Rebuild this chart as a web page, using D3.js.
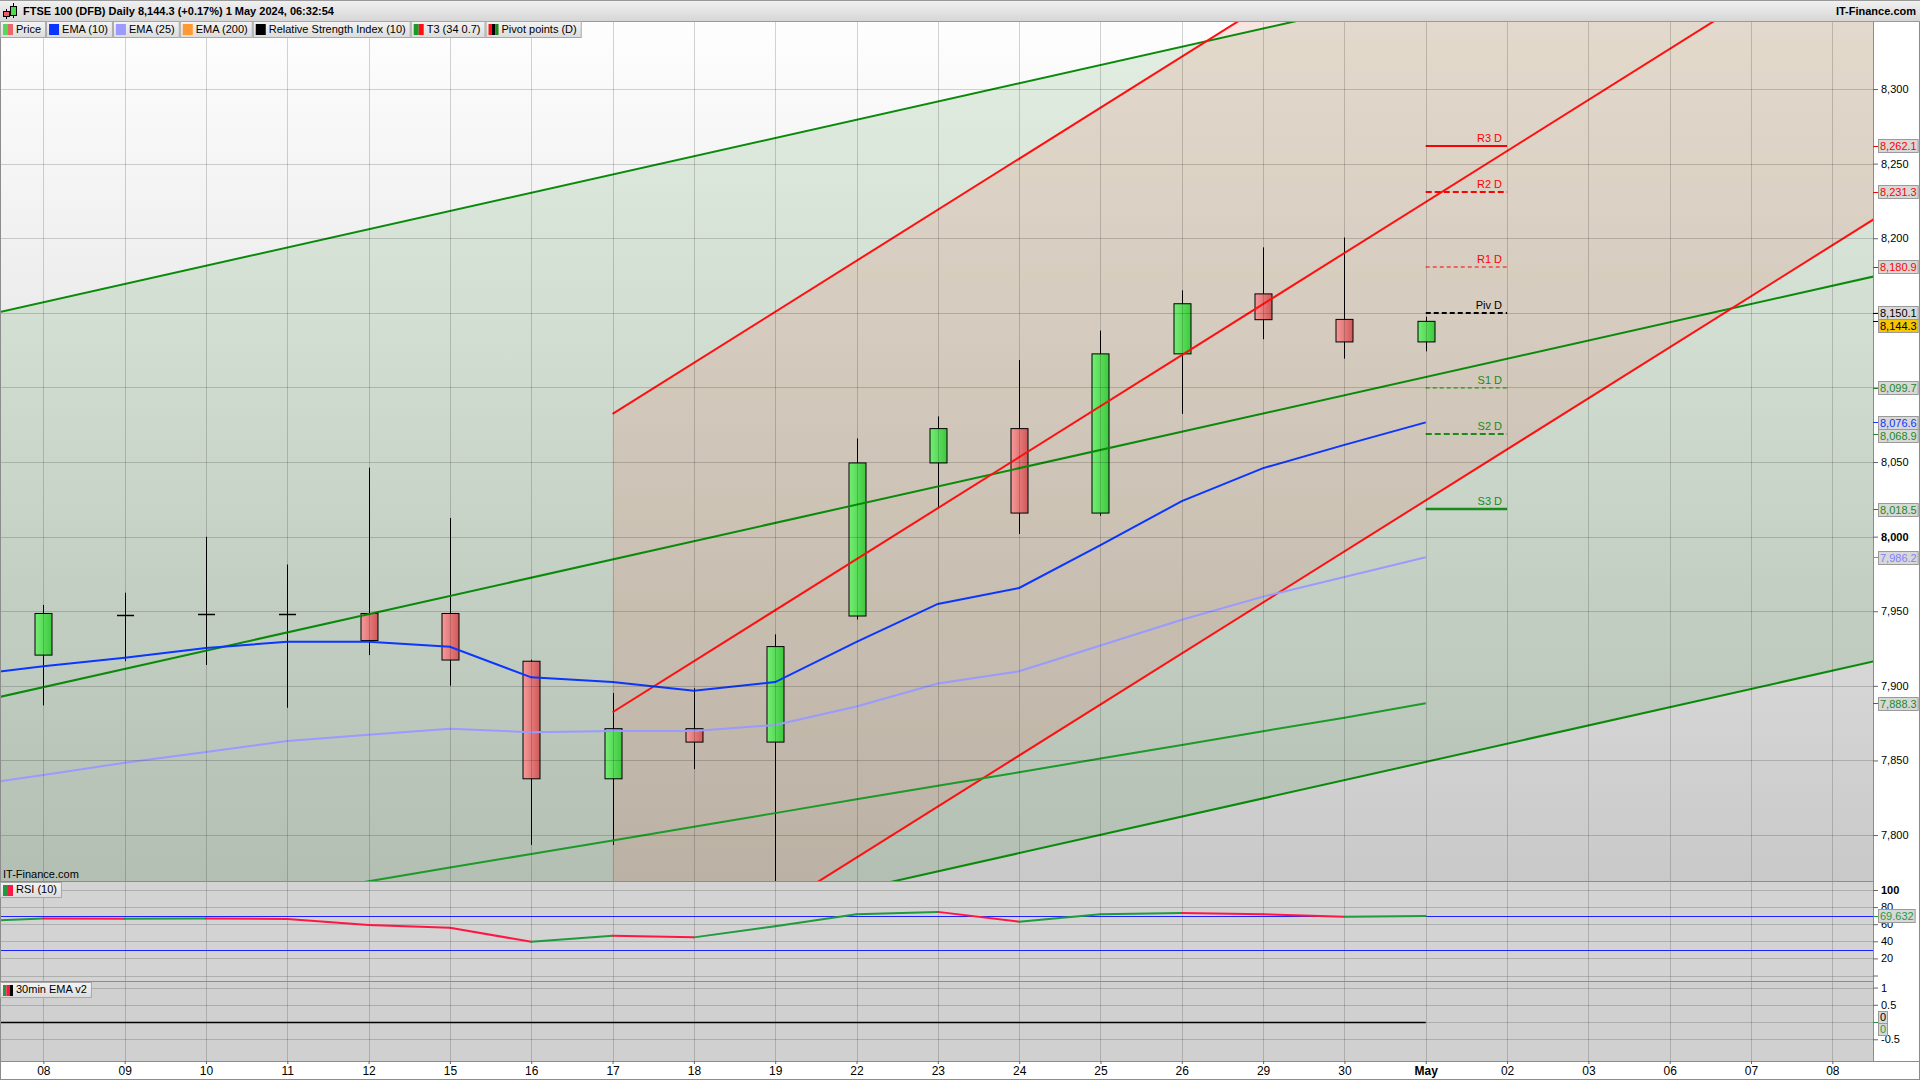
<!DOCTYPE html>
<html><head><meta charset="utf-8">
<script src="https://cdn.jsdelivr.net/npm/d3@7"></script>
<style>
html,body{margin:0;padding:0;background:#fff;overflow:hidden;}
svg{display:block;font-family:"Liberation Sans",Arial,Helvetica,sans-serif;}
</style></head><body>
<svg id="c" width="1920" height="1080"></svg>
<script>
// ---------------- DATA ----------------
const dates  = ["08","09","10","11","12","15","16","17","18","19","22","23","24","25","26","29","30","May","02","03","06","07","08"];
const openP  = [7920.6,7947.6,7947.6,7948.5,7948.5,7948.5,7916.5,7837.7,7871.3,7862.3,7946.8,8049.4,8072.4,8015.8,8122.5,8162.7,8145.6,8130.5];
const highP  = [7954.2,7962.4,7999.9,7981.3,8046.2,8012.5,7917.5,7895.2,7898.4,7934.5,8065.8,8080.6,8118.4,8138.1,8165.1,8193.9,8200.5,8147.4];
const lowP   = [7886.9,7916.5,7914.0,7885.3,7920.6,7900.1,7793.4,7793.4,7844.2,7760.0,7944.4,8019.1,8001.8,8014.0,8082.3,8132.3,8119.3,8124.2];
const closeP = [7948.5,7947.8,7948.0,7948.2,7930.4,7917.3,7837.7,7871.3,7862.3,7926.3,8049.4,8072.4,8015.8,8122.5,8156.1,8145.4,8130.5,8144.3];
// indicator series start one session earlier (index -1 = 05 Apr)
const ema10  = [7906.6,7913.1,7918.8,7925.4,7929.5,7929.5,7926.2,7905.7,7902.5,7896.7,7902.5,7929.5,7954.9,7965.6,7994.3,8023.8,8045.9,8061.5,8076.6];
const ema25  = [7832.3,7840.3,7848.4,7855.7,7863.1,7867.2,7871.3,7868.9,7869.7,7869.7,7873.8,7886.1,7901.6,7909.8,7927.0,7944.3,7959.8,7972.9,7986.2];
const rsi10  = [62.9,66.8,66.5,66.7,66.2,59.0,55.9,39.4,46.5,44.6,57.7,71.6,74.4,63.0,71.6,73.0,71.6,68.7,69.632];
// T3 (34 0.7) from index 3 (11 Apr)
const t3Start = 3;
const t3     = [7759.9,7769.0,7778.2,7787.3,7796.3,7805.6,7814.7,7824.0,7833.0,7842.1,7851.3,7860.3,7869.6,7878.6,7888.3];
const ema30min = [0,0,0,0,0,0,0,0,0,0,0,0,0,0,0,0,0,0,0];
// trend channels: centre line endpoints [dateIndex, price] and half width (points)
const greenMid = [[-1, 7886.9],[23, 8180.4]];
const greenHalf = 258;
const redMid = [[7, 7882.3],[23, 8429.5]];
const redHalf = 200;
// daily pivot points
const pivotNames = ["R3 D","R2 D","R1 D","Piv D","S1 D","S2 D","S3 D"];
const pivotVals  = [8262.1,8231.3,8180.9,8150.1,8099.7,8068.9,8018.5];
const priceTicks = [7800,7850,7900,7950,8000,8050,8100,8150,8200,8250,8300];
const rsiTicks = [0,20,40,60,80,100];
const emaPanelTicks = [-0.5,0,0.5,1];
const titleText = "FTSE 100 (DFB) Daily 8,144.3 (+0.17%) 1 May 2024, 06:32:54";

// ---------------- LAYOUT ----------------
const W = 1920, PR = 1873;
const headerH = 21, mainTop = 21, mainBot = 881, rsiBot = 981, lowBot = 1061;
const svg = d3.select("#c");
const defs = svg.append("defs");

const x = d3.scaleLinear().domain([-0.533, 22.5]).range([0, PR]);
const y = d3.scaleLinear().domain([7769.2, 8345.6]).range([mainBot, mainTop]);
const yr = d3.scaleLinear().domain([-6.4, 110.5]).range([rsiBot, mainBot]);
const ye = d3.scaleLinear().domain([-1.13, 1.19]).range([lowBot, rsiBot]);

function grad(id, x2, y2, stops, user, coords) {
  const g = defs.append("linearGradient").attr("id", id);
  if (user) { g.attr("gradientUnits","userSpaceOnUse").attr("x1",coords[0]).attr("y1",coords[1]).attr("x2",coords[2]).attr("y2",coords[3]); }
  else { g.attr("x1",0).attr("y1",0).attr("x2",x2).attr("y2",y2); }
  stops.forEach(s => g.append("stop").attr("offset", s[0]).attr("stop-color", s[1]));
}
grad("bgMain",0,0,[[0,"#fefefe"],[1,"#c9c9c9"]],true,[0,mainTop,0,mainBot]);
grad("hdr",0,1,[[0,"#f2f2f2"],[1,"#d6d6d6"]]);
grad("box",0,1,[[0,"#f4f4f4"],[1,"#dcdcdc"]]);
grad("redBody",1,0,[[0,"#f69a9a"],[1,"#d05858"]]);
grad("grnBody",1,0,[[0,"#74ee74"],[1,"#3ec83e"]]);

defs.append("clipPath").attr("id","mainClip").append("rect").attr("x",0).attr("y",mainTop).attr("width",PR).attr("height",mainBot-mainTop);
defs.append("clipPath").attr("id","rsiClip").append("rect").attr("x",0).attr("y",mainBot).attr("width",PR).attr("height",rsiBot-mainBot);

// whole background
svg.append("rect").attr("width",W).attr("height",1080).attr("fill","#fff");

// ---- main panel background ----
const main = svg.append("g").attr("clip-path","url(#mainClip)");
main.append("rect").attr("x",0).attr("y",mainTop).attr("width",PR).attr("height",mainBot-mainTop).attr("fill","url(#bgMain)");

function midAt(seg, i){ const [a,b]=seg; return a[1] + (b[1]-a[1])*(i-a[0])/(b[0]-a[0]); }
function channelPoly(seg, half){
  const a = seg[0][0], b = seg[1][0];
  return [[x(a), y(midAt(seg,a)+half)],[x(b), y(midAt(seg,b)+half)],[x(b), y(midAt(seg,b)-half)],[x(a), y(midAt(seg,a)-half)]];
}
main.append("polygon").attr("points", channelPoly(greenMid, greenHalf).join(" ")).attr("fill","rgb(0,110,0)").attr("fill-opacity",0.1);
main.append("polygon").attr("points", channelPoly(redMid, redHalf).join(" ")).attr("fill","rgb(225,105,80)").attr("fill-opacity",0.16);

// ---- RSI & lower panels ----
svg.append("rect").attr("x",0).attr("y",mainBot).attr("width",PR).attr("height",rsiBot-mainBot).attr("fill","#d3d3d3");
svg.append("rect").attr("x",0).attr("y",rsiBot).attr("width",PR).attr("height",lowBot-rsiBot).attr("fill","#d0d0d0");

// ---- gridlines ----
const grid = svg.append("g").attr("stroke","#000").attr("stroke-opacity",0.17).attr("stroke-width",1);
d3.range(0, dates.length).forEach(i => {
  grid.append("line").attr("x1",Math.round(x(i))+0.5).attr("x2",Math.round(x(i))+0.5).attr("y1",mainTop).attr("y2",lowBot);
});
priceTicks.forEach(v => grid.append("line").attr("x1",0).attr("x2",PR).attr("y1",Math.round(y(v))+0.5).attr("y2",Math.round(y(v))+0.5));
rsiTicks.forEach(v => grid.append("line").attr("x1",0).attr("x2",PR).attr("y1",Math.round(yr(v))+0.5).attr("y2",Math.round(yr(v))+0.5));
emaPanelTicks.forEach(v => grid.append("line").attr("x1",0).attr("x2",PR).attr("y1",Math.round(ye(v))+0.5).attr("y2",Math.round(ye(v))+0.5));

// ---- candles ----
const bw = 17;
const cg = main.append("g");
openP.forEach((o,i) => {
  const c = closeP[i], h = highP[i], l = lowP[i], cx = Math.round(x(i))+0.5;
  cg.append("line").attr("x1",cx).attr("x2",cx).attr("y1",y(h)).attr("y2",y(l)).attr("stroke","#000").attr("stroke-width",1);
  if (Math.abs(c-o) < 1.5) {
    cg.append("line").attr("x1",cx-bw/2).attr("x2",cx+bw/2).attr("y1",Math.round(y(c))+0.5).attr("y2",Math.round(y(c))+0.5).attr("stroke","#000").attr("stroke-width",1.5);
  } else {
    const top = y(Math.max(o,c)), bot = y(Math.min(o,c));
    cg.append("rect").attr("x",cx-bw/2).attr("y",top).attr("width",bw).attr("height",bot-top)
      .attr("fill", c>o ? "url(#grnBody)" : "url(#redBody)").attr("stroke","#000").attr("stroke-width",1);
  }
});

// ---- channel lines ----
function chanLines(seg, half, color){
  [half, 0, -half].forEach(off => {
    const a = seg[0][0], b = seg[1][0];
    main.append("line").attr("x1",x(a)).attr("y1",y(midAt(seg,a)+off)).attr("x2",x(b)).attr("y2",y(midAt(seg,b)+off))
      .attr("stroke",color).attr("stroke-width",2);
  });
}
chanLines(greenMid, greenHalf, "#0a8a0a");
chanLines(redMid, redHalf, "#ff1010");

// ---- T3 & EMAs ----
const ln = d3.line().x(d=>x(d[0])).y(d=>y(d[1]));
main.append("path").attr("d", ln(t3.map((v,k)=>[k+t3Start, v]))).attr("fill","none").attr("stroke","#1c9a2a").attr("stroke-width",2);
main.append("path").attr("d", ln(ema25.map((v,k)=>[k-1, v]))).attr("fill","none").attr("stroke","#9a9aff").attr("stroke-width",2);
main.append("path").attr("d", ln(ema10.map((v,k)=>[k-1, v]))).attr("fill","none").attr("stroke","#0a36ff").attr("stroke-width",2);

// ---- pivots ----
const pivStyle = [
  {c:"#ff0000", w:2, d:null}, {c:"#ff0000", w:2, d:"6,3"}, {c:"#ff0000", w:1, d:"4,3"},
  {c:"#000000", w:2, d:"5,3"}, {c:"#1a8a1a", w:1, d:"4,3"}, {c:"#1a8a1a", w:2, d:"6,3"}, {c:"#1a8a1a", w:2.5, d:null}];
const pg = main.append("g");
pivotVals.forEach((v,k) => {
  const s = pivStyle[k], yy = Math.round(y(v));
  pg.append("line").attr("x1",x(17)).attr("x2",x(18)).attr("y1",yy).attr("y2",yy)
    .attr("stroke",s.c).attr("stroke-width",s.w).attr("stroke-dasharray",s.d);
  pg.append("text").attr("x",x(18)-5).attr("y",yy-4).attr("text-anchor","end").attr("font-size",11).attr("fill",s.c).text(pivotNames[k]);
});

// ---- RSI line ----
const rg = svg.append("g").attr("clip-path","url(#rsiClip)");
[70,30].forEach(v => rg.append("line").attr("x1",0).attr("x2",PR).attr("y1",Math.round(yr(v))+0.5).attr("y2",Math.round(yr(v))+0.5).attr("stroke","#2020ff").attr("stroke-width",1));
for (let k=1;k<rsi10.length;k++){
  rg.append("line").attr("x1",x(k-2)).attr("y1",yr(rsi10[k-1])).attr("x2",x(k-1)).attr("y2",yr(rsi10[k]))
    .attr("stroke", rsi10[k]>=rsi10[k-1] ? "#1f9a3f" : "#ff1744").attr("stroke-width",2).attr("stroke-linecap","round");
}
// ---- 30min EMA v2 panel ----
svg.append("path").attr("d", d3.line().x((d,k)=>x(k-1)).y(d=>Math.round(ye(d))+0.5)(ema30min)).attr("fill","none").attr("stroke","#000").attr("stroke-width",1.5);

// ---- panel separators & frame ----
const fr = svg.append("g").attr("stroke","#8c8c8c").attr("stroke-width",1);
[mainBot, rsiBot, lowBot].forEach(v => fr.append("line").attr("x1",0).attr("x2",W).attr("y1",v+0.5).attr("y2",v+0.5));
fr.append("line").attr("x1",PR+0.5).attr("x2",PR+0.5).attr("y1",mainTop).attr("y2",lowBot);
fr.append("line").attr("x1",0.5).attr("x2",0.5).attr("y1",0).attr("y2",1080);
fr.append("line").attr("x1",W-0.5).attr("x2",W-0.5).attr("y1",0).attr("y2",1080);
fr.append("line").attr("x1",0).attr("x2",W).attr("y1",1079.5).attr("y2",1079.5);

// ---- header ----
svg.append("rect").attr("x",0).attr("y",0).attr("width",W).attr("height",headerH).attr("fill","url(#hdr)");
svg.append("line").attr("x1",0).attr("x2",W).attr("y1",0.5).attr("y2",0.5).attr("stroke","#999");
svg.append("line").attr("x1",0).attr("x2",W).attr("y1",headerH+0.5).attr("y2",headerH+0.5).attr("stroke","#999");
// icon
const ic = svg.append("g");
ic.append("line").attr("x1",6.5).attr("x2",6.5).attr("y1",9).attr("y2",19).attr("stroke","#000");
ic.append("rect").attr("x",3.5).attr("y",11.5).attr("width",6).attr("height",5).attr("fill","#e86060").attr("stroke","#000");
ic.append("line").attr("x1",13.5).attr("x2",13.5).attr("y1",3).attr("y2",18).attr("stroke","#000");
ic.append("rect").attr("x",10.5).attr("y",6.5).attr("width",6).attr("height",9).attr("fill","#50d850").attr("stroke","#000");
svg.append("text").attr("x",23).attr("y",15).attr("font-size",11).attr("font-weight","bold").text(titleText);
svg.append("text").attr("x",1916).attr("y",15).attr("text-anchor","end").attr("font-size",11).attr("font-weight","bold").text("IT-Finance.com");

// ---- legend boxes ----
function swatch(g, sx, sy, cols){
  const w = 10/cols.length;
  cols.forEach((c,k)=> g.append("rect").attr("x",sx+k*w).attr("y",sy).attr("width",w).attr("height",11).attr("fill",c));
}
function legendRow(items, x0, y0, h){
  let cx = x0;
  items.forEach(it => {
    const g = svg.append("g");
    const r = g.append("rect").attr("x",cx+0.5).attr("y",y0+0.5).attr("height",h).attr("fill","url(#box)").attr("stroke","#a8a8a8");
    swatch(g, cx+3, y0+3, it.c);
    const t = g.append("text").attr("x",cx+16).attr("y",y0+h-4).attr("font-size",11).text(it.t);
    const w = t.node().getComputedTextLength() + 20;
    r.attr("width", w);
    cx += w + 1;
  });
}
legendRow([
  {t:"Price", c:["#5ad65a","#e86868"]},
  {t:"EMA (10)", c:["#0a36ff"]},
  {t:"EMA (25)", c:["#9a9aff"]},
  {t:"EMA (200)", c:["#ff9933"]},
  {t:"Relative Strength Index (10)", c:["#000000"]},
  {t:"T3 (34 0.7)", c:["#1a9a2a","#ff1010"]},
  {t:"Pivot points (D)", c:["#ff1010","#000000","#1a8a1a"]}
], 0, 21, 16);
legendRow([{t:"RSI (10)", c:["#1f9a3f","#ff1744"]}], 0, 882, 15);
legendRow([{t:"30min EMA v2", c:["#1f9a3f","#ff1744","#000000"]}], 0, 982, 15);
svg.append("text").attr("x",3).attr("y",878).attr("font-size",11).text("IT-Finance.com");

// ---- right axes ----
svg.append("rect").attr("x",PR+1).attr("y",mainTop+1).attr("width",W-PR-2).attr("height",lowBot-mainTop-1).attr("fill","#fff");
const markers = [
  {v:8262.1, col:"#ff0000"}, {v:8231.3, col:"#ff0000"}, {v:8180.9, col:"#ff0000"},
  {v:8150.1, col:"#000000"}, {v:8144.3, col:"#000000", bg:"#f7c600"},
  {v:8099.7, col:"#1a8a1a"}, {v:8076.6, col:"#0a36ff"}, {v:8068.9, col:"#1a8a1a"},
  {v:8018.5, col:"#1a8a1a"}, {v:7986.2, col:"#8080ff"}, {v:7888.3, col:"#1a8a1a"}];
markers.forEach(m => m.y = y(m.v));

function styleAxis(g){
  g.select(".domain").remove();
  g.selectAll(".tick line").attr("stroke","#666");
  g.selectAll(".tick text").attr("font-size",11).attr("fill","#000").attr("font-family","Liberation Sans, Arial, sans-serif");
}
const ay = svg.append("g").attr("transform",`translate(${PR},0)`).call(d3.axisRight(y).tickValues(priceTicks).tickSize(5).tickPadding(3).tickFormat(d3.format(",")));
styleAxis(ay);
ay.selectAll(".tick").filter(d => markers.some(m => Math.abs(m.y - y(d)) < 9)).select("text").remove();
ay.selectAll(".tick").filter(d => d===8000).select("text").attr("font-weight","bold");

const ar = svg.append("g").attr("transform",`translate(${PR},0)`).call(d3.axisRight(yr).tickValues(rsiTicks).tickSize(5).tickPadding(3).tickFormat(d => d===0 ? "" : d));
styleAxis(ar);
ar.selectAll(".tick").filter(d => d===100).select("text").attr("font-weight","bold");

const ae = svg.append("g").attr("transform",`translate(${PR},0)`).call(d3.axisRight(ye).tickValues(emaPanelTicks).tickSize(5).tickPadding(3).tickFormat(d => d===0 ? "" : d));
styleAxis(ae);

function markerBox(yy, txt, col, bg){
  const g = svg.append("g");
  g.append("line").attr("x1",PR).attr("x2",PR+5).attr("y1",Math.round(yy)+0.5).attr("y2",Math.round(yy)+0.5).attr("stroke",col);
  return g;
}
let lastBottom = -1e9;
markers.forEach(m => {
  const h = 13;
  let top = m.y - h/2;
  if (top < lastBottom) top = lastBottom;
  lastBottom = top + h;
  const g = markerBox(m.y, null, m.col);
  const r = g.append("rect").attr("x",PR+5.5).attr("y",Math.round(top)+0.5).attr("height",h).attr("fill",m.bg||"#d8d8d8").attr("stroke","#9a9a9a");
  const t = g.append("text").attr("x",PR+7).attr("y",Math.round(top)+h-2).attr("font-size",11).attr("fill",m.col).text(d3.format(",.1f")(m.v));
  r.attr("width", t.node().getComputedTextLength()+3);
});
// RSI marker
{
  const v = rsi10[rsi10.length-1], yy = yr(v), h = 13;
  const g = markerBox(yy, null, "#1f9a3f");
  const r = g.append("rect").attr("x",PR+5.5).attr("y",Math.round(yy-h/2)+0.5).attr("height",h).attr("fill","#d8d8d8").attr("stroke","#9a9a9a");
  const t = g.append("text").attr("x",PR+7).attr("y",Math.round(yy-h/2)+h-2).attr("font-size",11).attr("fill","#1f9a3f").text(d3.format(".3f")(v));
  r.attr("width", t.node().getComputedTextLength()+3);
}
// lower panel zero markers
[{dy:-11, col:"#000"},{dy:1, col:"#1f9a3f"}].forEach(o => {
  const yy = ye(0);
  const g = svg.append("g");
  g.append("line").attr("x1",PR).attr("x2",PR+5).attr("y1",Math.round(yy)+0.5).attr("y2",Math.round(yy)+0.5).attr("stroke","#1f9a3f");
  g.append("rect").attr("x",PR+5.5).attr("y",Math.round(yy+o.dy)+0.5).attr("width",9).attr("height",12).attr("fill","#d8d8d8").attr("stroke","#9a9a9a");
  g.append("text").attr("x",PR+7).attr("y",Math.round(yy+o.dy)+10).attr("font-size",11).attr("fill",o.col).text("0");
});

// ---- x axis ----
const ax = svg.append("g").attr("transform",`translate(0,${lowBot})`).call(d3.axisBottom(x).tickValues(d3.range(0,dates.length)).tickSize(3).tickPadding(2).tickFormat(i => dates[i]));
ax.select(".domain").remove();
ax.selectAll(".tick line").attr("stroke","#666");
ax.selectAll(".tick text").attr("font-size",12).attr("fill","#000").attr("font-family","Liberation Sans Narrow, Arial Narrow, Liberation Sans, sans-serif")
  .attr("font-weight", i => dates[i]==="May" ? "bold" : null);
</script>
</body></html>
